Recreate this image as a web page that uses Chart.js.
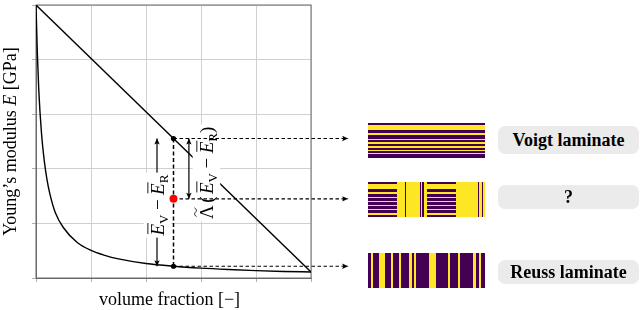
<!DOCTYPE html>
<html>
<head>
<meta charset="utf-8">
<script src="https://cdn.jsdelivr.net/npm/chart.js@4.4.0/dist/chart.umd.min.js"></script>
<style>
  body { margin: 0; background: #fff; }
  #wrap { position: relative; width: 640px; height: 310px; overflow: hidden; }
  #chart { position: absolute; left: 0; top: 0; }
  .lam { position: absolute; left: 368px; width: 117px; height: 35px; display: flex; }
  .lam div { flex: 1; }
  .tag { position: absolute; left: 498px; width: 141px; background: #ebebeb; border-radius: 7px;
         font: bold 18px "Liberation Serif", serif; color: #000; text-align: center; }
</style>
</head>
<body>
<div id="wrap">
  <canvas id="chart" width="640" height="310"></canvas>
  <div class="lam" id="lamVoigt" style="top:123px"></div>
  <div class="lam" id="lamMixed" style="top:182px"><div></div><div></div><div></div><div></div></div>
  <div class="lam" id="lamReuss" style="top:253px"></div>
  <div class="tag" style="top:126px;height:28px;line-height:28px">Voigt laminate</div>
  <div class="tag" style="top:185px;height:24px;line-height:24px">?</div>
  <div class="tag" style="top:260px;height:24px;line-height:24px">Reuss laminate</div>
</div>
<script>
// volume fraction samples and the Reuss (lower) bound
const volFrac = [0, 0.005, 0.01, 0.02, 0.03, 0.04, 0.05, 0.07, 0.1, 0.15, 0.2, 0.25, 0.3, 0.4, 0.5, 0.6, 0.7, 0.8, 0.9, 1.0];
const reussE  = [1.0, 0.82, 0.69, 0.53, 0.43, 0.36, 0.31, 0.24, 0.184, 0.13, 0.101, 0.083, 0.07, 0.053, 0.043, 0.036, 0.031, 0.027, 0.024, 0.022];

// Voigt (upper) bound is a straight line
const voigtFrac = [0, 1];
const voigtE    = [1.0, 0.022];

// the sampled volume fraction and the three moduli there: Voigt, laminate, Reuss
const sampleFrac = 0.5;
const sampleE = [0.511, 0.29, 0.043];
const dotColors = ["#000", "#ff0000", "#000"];

// where the dashed pointers end (right of the plot) and the two bracket arrows
const pointerEnd = 1.135;
const gapArrowFrac = 0.44;
const lambdaArrowFrac = 0.556;

// laminate pictures: bands as [start, end] fractions
const voigtBands = [[0.07, 0.21], [0.29, 0.33], [0.46, 0.49], [0.55, 0.59], [0.67, 0.72], [0.76, 0.79], [0.86, 0.89]];
const mixedHBands = [[0.07, 0.2], [0.28, 0.33], [0.42, 0.47], [0.53, 0.57], [0.65, 0.7], [0.77, 0.81], [0.9, 0.95]];
const mixedV1Bands = [[0.28, 0.31], [0.76, 0.8], [0.85, 0.89]];
const mixedV2Bands = [[0.26, 0.29], [0.76, 0.8], [0.88, 0.92]];
const reussBands = [[0.029, 0.04], [0.094, 0.143], [0.2, 0.211], [0.266, 0.28], [0.351, 0.38], [0.394, 0.411],
                    [0.523, 0.58], [0.68, 0.697], [0.771, 0.786], [0.894, 0.926], [0.951, 0.966]];

const PURPLE = "#440154";
const YELLOW = "#fde725";
const SERIF = '"Liberation Serif", "Times New Roman", serif';

function stripes(dir, bands, base, band) {
    const stops = [];
    let pos = 0;
    bands.forEach(([a, b]) => {
        stops.push(`${base} ${pos * 100}% ${a * 100}%`, `${band} ${a * 100}% ${b * 100}%`);
        pos = b;
    });
    stops.push(`${base} ${pos * 100}% 100%`);
    return `linear-gradient(${dir}, ${stops.join(", ")})`;
}

document.getElementById("lamVoigt").style.background = stripes("to bottom", voigtBands, PURPLE, YELLOW);
document.getElementById("lamReuss").style.background = stripes("to right", reussBands, PURPLE, YELLOW);
const blocks = document.querySelectorAll("#lamMixed div");
blocks[0].style.background = stripes("to bottom", mixedHBands, PURPLE, YELLOW);
blocks[1].style.background = stripes("to right", mixedV1Bands, YELLOW, PURPLE);
blocks[2].style.background = stripes("to bottom", mixedHBands, PURPLE, YELLOW);
blocks[3].style.background = stripes("to right", mixedV2Bands, YELLOW, PURPLE);

// text with italics, subscripts, bars and a tilde, centred on (cx, cy)
function richText(ctx, parts, cx, cy, angle, size, bg) {
    const font = p => `${p.it ? "italic " : ""}${p.sub ? Math.round(size * 0.7) : size}px ${SERIF}`;
    ctx.save();
    ctx.translate(cx, cy);
    ctx.rotate(angle);
    ctx.textAlign = "left";
    ctx.textBaseline = "alphabetic";
    let w = 0;
    const widths = parts.map(p => {
        ctx.font = font(p);
        const m = ctx.measureText(p.t).width + (p.gap || 0);
        w += m;
        return m;
    });
    const base = size * 0.35;
    if (bg) {
        ctx.fillStyle = "#fff";
        ctx.fillRect(-w / 2 - 2, base - size * 1.05, w + 4, size * 1.45);
    }
    ctx.fillStyle = "#000";
    ctx.strokeStyle = "#000";
    let x = -w / 2;
    parts.forEach((p, i) => {
        ctx.font = font(p);
        const y = base + (p.sub ? size * 0.22 : 0);
        const x0 = x + (p.gap || 0) / 2;
        ctx.fillText(p.t, x0, y);
        if (p.bar) {
            ctx.lineWidth = 0.9;
            ctx.beginPath();
            ctx.moveTo(x0 + 1.5, y - size * 0.83);
            ctx.lineTo(x0 + widths[i] + 1, y - size * 0.83);
            ctx.stroke();
        }
        if (p.tilde) {
            const tx = x0 + widths[i] / 2, ty = y - size * 0.9, s = widths[i] * 0.32;
            ctx.lineWidth = 0.9;
            ctx.beginPath();
            ctx.moveTo(tx - s, ty + 1);
            ctx.bezierCurveTo(tx - s * 0.5, ty - 2.2, tx - s * 0.1, ty - 0.5, tx, ty);
            ctx.bezierCurveTo(tx + s * 0.1, ty + 0.5, tx + s * 0.5, ty + 2.2, tx + s, ty - 1);
            ctx.stroke();
        }
        x += widths[i];
    });
    ctx.restore();
}

function arrowHead(ctx, from, to) {
    const a = Math.atan2(to.y - from.y, to.x - from.x);
    ctx.save();
    ctx.translate(to.x, to.y);
    ctx.rotate(a);
    ctx.fillStyle = "#000";
    ctx.beginPath();
    ctx.moveTo(0, 0);
    ctx.lineTo(-6, -2.7);
    ctx.lineTo(-4.8, 0);
    ctx.lineTo(-6, 2.7);
    ctx.closePath();
    ctx.fill();
    ctx.restore();
}

const gapLabel = [
    { t: "E", it: true, bar: true }, { t: "V", sub: true }, { t: "\u2212", gap: 9 },
    { t: "E", it: true, bar: true }, { t: "R", sub: true }
];
const lambdaLabel = [{ t: "\u039B", tilde: true }, { t: "(", gap: 5 }].concat(gapLabel, [{ t: ")" }]);

const annotations = {
    id: "annotations",
    beforeDatasetsDraw(chart) {
        const { ctx, chartArea: a } = chart;
        ctx.save();
        ctx.strokeStyle = "#6a6a6a";
        ctx.lineWidth = 1;
        ctx.strokeRect(a.left, a.top, a.right - a.left, a.bottom - a.top);
        ctx.restore();
    },
    afterDatasetDraw(chart, args) {
        if (chart.data.datasets[args.index].id !== "voigt") return;
        const { ctx, scales: { x, y } } = chart;
        richText(ctx, gapLabel, x.getPixelForValue(gapArrowFrac), y.getPixelForValue(0.267), -Math.PI / 2, 19, true);
        richText(ctx, lambdaLabel, x.getPixelForValue(0.618), y.getPixelForValue(0.385), -Math.PI / 2, 19, true);
    },
    afterDatasetsDraw(chart) {
        const ctx = chart.ctx;
        chart.data.datasets.forEach((ds, i) => {
            if (!ds.heads) return;
            const pts = chart.getDatasetMeta(i).data;
            const n = pts.length;
            arrowHead(ctx, pts[n - 2], pts[n - 1]);
            if (ds.heads === "both") arrowHead(ctx, pts[1], pts[0]);
        });
    },
    afterDraw(chart) {
        const { ctx, chartArea: a } = chart;
        richText(ctx, [{ t: "volume fraction [\u2212]" }], (a.left + a.right) / 2 - 4, 299, 0, 18, false);
        richText(ctx, [{ t: "Young\u2019s modulus " }, { t: "E", it: true }, { t: " [GPa]" }],
            10, (a.top + a.bottom) / 2, -Math.PI / 2, 18, false);
    }
};

const pair = (xs, ys) => xs.map((v, i) => ({ x: v, y: ys[i] }));
const lineStyle = { showLine: true, pointRadius: 0, borderColor: "#000", backgroundColor: "#000" };

const datasets = [
    { ...lineStyle, id: "gapArrow", order: 6, borderWidth: 1.2, heads: "both",
      data: [{ x: gapArrowFrac, y: sampleE[0] }, { x: gapArrowFrac, y: sampleE[2] }] },
    { ...lineStyle, id: "lambdaArrow", order: 6, borderWidth: 1.2, heads: "both",
      data: [{ x: lambdaArrowFrac, y: sampleE[0] }, { x: lambdaArrowFrac, y: sampleE[1] }] },
    { ...lineStyle, id: "reuss", order: 5, borderWidth: 1.4, cubicInterpolationMode: "monotone",
      data: pair(volFrac, reussE) },
    { ...lineStyle, id: "voigt", order: 4, borderWidth: 1.4, data: pair(voigtFrac, voigtE) },
    { ...lineStyle, id: "sampleLine", order: 2, borderWidth: 1.5, borderDash: [4, 2.5],
      data: [{ x: sampleFrac, y: sampleE[0] }, { x: sampleFrac, y: sampleE[2] }] },
    ...sampleE.map(e => ({
        ...lineStyle, order: 2, borderWidth: 1.2, borderDash: [3.5, 2.5], clip: false, heads: "end",
        data: [{ x: sampleFrac, y: e }, { x: pointerEnd, y: e }]
    })),
    { id: "samples", order: 1, showLine: false, pointRadius: sampleE.map((e, i) => i === 1 ? 4 : 2.6),
      pointBackgroundColor: dotColors, pointBorderWidth: 0, pointBorderColor: dotColors,
      data: sampleE.map(e => ({ x: sampleFrac, y: e })) }
];

new Chart(document.getElementById("chart"), {
    type: "scatter",
    data: { datasets },
    options: {
        responsive: false,
        animation: false,
        layout: { padding: { left: 32, top: 5, right: 329, bottom: 28 } },
        plugins: { legend: { display: false }, tooltip: { enabled: false } },
        scales: {
            x: {
                min: 0, max: 1,
                ticks: { stepSize: 0.2, display: false },
                grid: { color: "#d0d0d0", tickLength: 4, tickColor: "#b0b0b0" },
                border: { color: "#6a6a6a" }
            },
            y: {
                min: 0, max: 1,
                ticks: { stepSize: 0.2, display: false },
                grid: { color: "#d0d0d0", tickLength: 4, tickColor: "#b0b0b0" },
                border: { color: "#6a6a6a" }
            }
        }
    },
    plugins: [annotations]
});
</script>
</body>
</html>
